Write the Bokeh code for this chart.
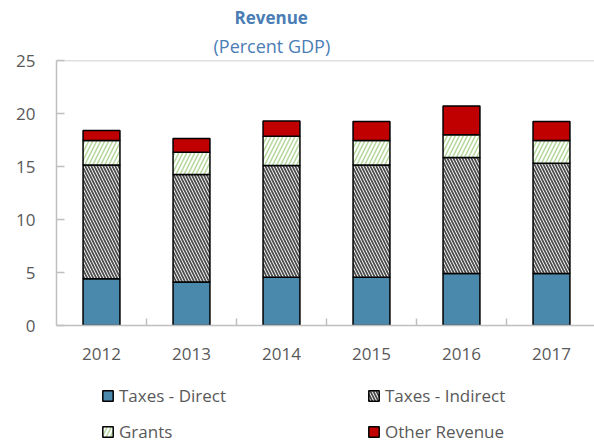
from bokeh.plotting import figure
from bokeh.layouts import column
from bokeh.models import (ColumnDataSource, FixedTicker, Legend, LegendItem, Span, Title, Range1d)
from bokeh.embed import file_html
from bokeh.resources import INLINE

years = ["2012", "2013", "2014", "2015", "2016", "2017"]
taxes_direct = [4.4, 4.1, 4.55, 4.55, 4.9, 4.9]
taxes_indirect = [10.75, 10.15, 10.55, 10.6, 10.95, 10.4]
grants = [2.3, 2.1, 2.75, 2.3, 2.15, 2.15]
other_revenue = [0.95, 1.3, 1.45, 1.8, 2.7, 1.8]
series_names = ["Taxes - Direct", "Taxes - Indirect", "Grants", "Other Revenue"]
y_ticks = [0, 5, 10, 15, 20, 25]

FONT = "Open Sans"
TXT = "#595959"
GRID = "#BFBFBF"
STACK = ["direct", "indirect", "grants", "other"]
STYLE = dict(fill_color=["#4A89AC", "white", "white", "#C00000"],
             line_color="black", line_width=1.5,
             hatch_pattern=[" ", "\\", "/", " "],
             hatch_color=["#4A89AC", "#4D4D4D", "#B4D79C", "#C00000"],
             hatch_scale=[6, 6, 8, 6], hatch_weight=[1, 1.8, 1.5, 1])

xs = list(range(len(years)))
src = ColumnDataSource(dict(x=xs, direct=taxes_direct, indirect=taxes_indirect,
                            grants=grants, other=other_revenue))

p = figure(frame_width=538, frame_height=265, output_backend="svg", toolbar_location=None,
           x_range=Range1d(-0.5, 5.478), y_range=Range1d(0, 25),
           min_border_left=56, min_border_right=0, min_border_top=60, min_border_bottom=45)
p.outline_line_color = None
p.xgrid.visible = False
p.ygrid.visible = False

p.vbar_stack(STACK, x="x", width=0.41, source=src, **STYLE)

p.add_layout(Span(location=25, dimension="width", line_color=GRID, line_width=1.5))

# axes
p.xaxis.ticker = FixedTicker(ticks=xs, minor_ticks=[i + 0.5 for i in xs[:-1]])
p.xaxis.major_label_overrides = {i: y for i, y in zip(xs, years)}
p.xaxis.major_tick_line_color = None
p.xaxis.minor_tick_in = 7
p.xaxis.minor_tick_out = 0
p.xaxis.minor_tick_line_color = GRID
p.xaxis.minor_tick_line_width = 1.5
p.xaxis.axis_line_color = GRID
p.xaxis.axis_line_width = 1.5
p.xaxis.major_label_standoff = 16
p.xaxis.major_label_text_font = FONT
p.xaxis.major_label_text_font_size = "17px"
p.xaxis.major_label_text_color = TXT

p.yaxis.ticker = FixedTicker(ticks=y_ticks)
p.yaxis.major_tick_in = 8
p.yaxis.major_tick_out = 0
p.yaxis.major_tick_line_color = GRID
p.yaxis.major_tick_line_width = 1.5
p.yaxis.minor_tick_line_color = None
p.yaxis.axis_line_color = GRID
p.yaxis.axis_line_width = 1.5
p.yaxis.major_label_standoff = 21
p.yaxis.major_label_text_font = FONT
p.yaxis.major_label_text_font_size = "17px"
p.yaxis.major_label_text_color = TXT

# titles
p.add_layout(Title(text="(Percent GDP)", align="left", offset=157, text_font=FONT,
                   text_font_size="18px", text_font_style="normal", text_color="#4A7DB4",
                   standoff=6), "above")
p.add_layout(Title(text="Revenue", align="left", offset=178, text_font=FONT,
                   text_font_size="17px", text_font_style="bold", text_color="#4A7DB4",
                   standoff=0), "above")

# legend strip below the chart (bars drawn there lie outside its visible range)
lg = figure(frame_width=594, frame_height=75, output_backend="svg", toolbar_location=None,
            x_axis_type=None, y_axis_type=None, x_range=Range1d(-20, -19), y_range=Range1d(0, 1),
            min_border_left=0, min_border_right=0, min_border_top=0, min_border_bottom=0)
lg.outline_line_color = None
lg.xgrid.visible = False
lg.ygrid.visible = False
leg_renderers = lg.vbar_stack(STACK, x="x", width=0.41, source=src, **STYLE)

# Bokeh fills the legend grid column by column: order items so rows read as in the reference
order = [0, 2, 1, 3]
legend = Legend(items=[LegendItem(label=series_names[i], renderers=[leg_renderers[i]]) for i in order],
                ncols=2, location=(101, 2),
                border_line_color=None, background_fill_alpha=0,
                label_text_font=FONT, label_text_font_size="17px", label_text_color=TXT,
                glyph_width=13, glyph_height=13, label_standoff=5, label_width=235,
                spacing=13, padding=0, margin=0, label_height=20)
lg.add_layout(legend, "center")

layout = column(p, lg, spacing=0)
open("out.html", "w").write(file_html(layout, INLINE))
